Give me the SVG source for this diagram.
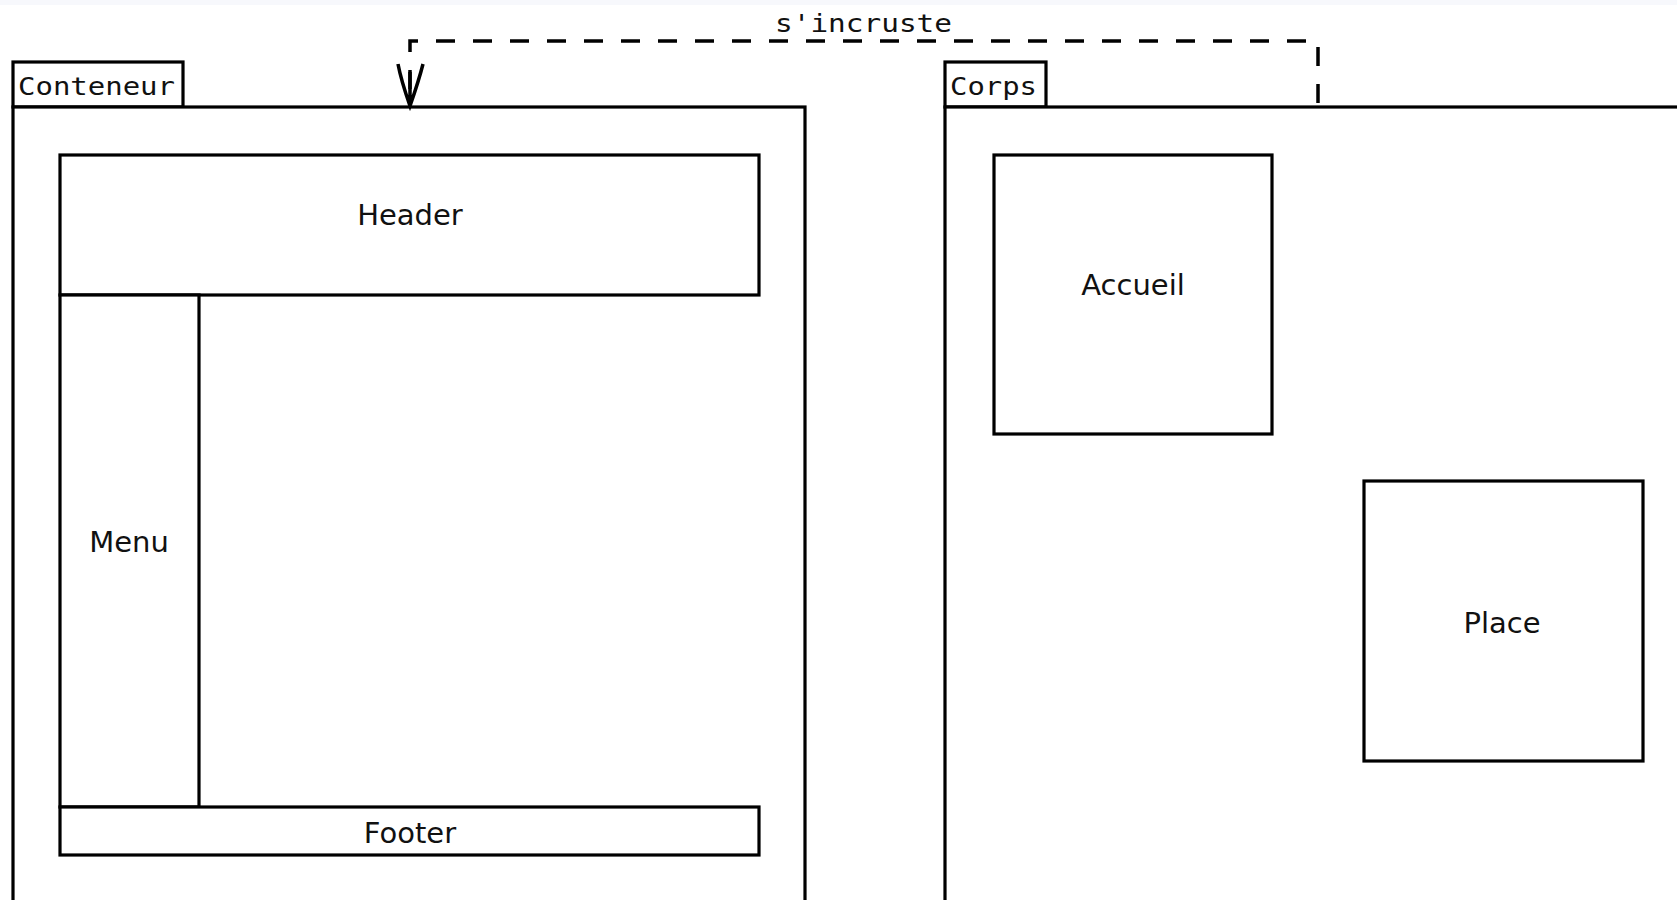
<svg xmlns="http://www.w3.org/2000/svg" width="1677" height="900" viewBox="0 0 1677 900">
  <style>
    .box { fill: #ffffff; stroke: #000000; stroke-width: 3.2; }
    .tab { fill: #ffffff; stroke: #000000; stroke-width: 3.2; }
    .lbl { font-family: "DejaVu Sans", "Noto Sans", sans-serif; font-size: 29px; fill: #111111; text-anchor: middle; }
    .mono { font-family: "DejaVu Sans Mono", "Liberation Mono", monospace; font-size: 25px; fill: #111111; }
    .dash { fill: none; stroke: #000000; stroke-width: 3.5; stroke-dasharray: 19 18; stroke-dashoffset: 19; }
    .head { fill: none; stroke: #000000; stroke-width: 3.5; stroke-linejoin: miter; }
  </style>

  <rect x="0" y="0" width="1677" height="900" fill="#ffffff"/>
  <rect x="0" y="0" width="1677" height="5" fill="#f7f8fc"/>

  <!-- Package: Conteneur -->
  <g id="conteneur">
    <rect class="tab" x="13" y="62" width="170" height="45"/>
    <rect class="box" x="13" y="107" width="792" height="810"/>
    <text class="mono" x="18" y="95" textLength="157" lengthAdjust="spacingAndGlyphs">Conteneur</text>
  </g>
  <g id="header">
    <rect class="box" x="60" y="155" width="699" height="140"/>
    <text class="lbl" x="410" y="225">Header</text>
  </g>
  <g id="menu">
    <rect class="box" x="60" y="295" width="139" height="512"/>
    <text class="lbl" x="129" y="552">Menu</text>
  </g>
  <g id="footer">
    <rect class="box" x="60" y="807" width="699" height="48"/>
    <text class="lbl" x="410" y="843">Footer</text>
  </g>

  <!-- Package: Corps -->
  <g id="corps">
    <rect class="tab" x="945" y="62" width="101" height="45"/>
    <rect class="box" x="945" y="107" width="760" height="810"/>
    <text class="mono" x="950" y="95" textLength="87" lengthAdjust="spacingAndGlyphs">Corps</text>
  </g>
  <g id="accueil">
    <rect class="box" x="994" y="155" width="278" height="279"/>
    <text class="lbl" x="1133" y="295">Accueil</text>
  </g>
  <g id="place">
    <rect class="box" x="1364" y="481" width="279" height="280"/>
    <text class="lbl" x="1502" y="633">Place</text>
  </g>

  <!-- Connectors: dashed dependency from Corps into Conteneur, open arrowhead -->
  <g id="connectors">
    <path class="dash" d="M410 107 L410 41 L1318 41 L1318 107"/>
    <path class="head" d="M410 107 L410 72 M398 64 Q401 80 410 106 Q419 80 423 64"/>
    <text class="mono" x="775" y="32" textLength="177" lengthAdjust="spacingAndGlyphs">s'incruste</text>
  </g>
</svg>
